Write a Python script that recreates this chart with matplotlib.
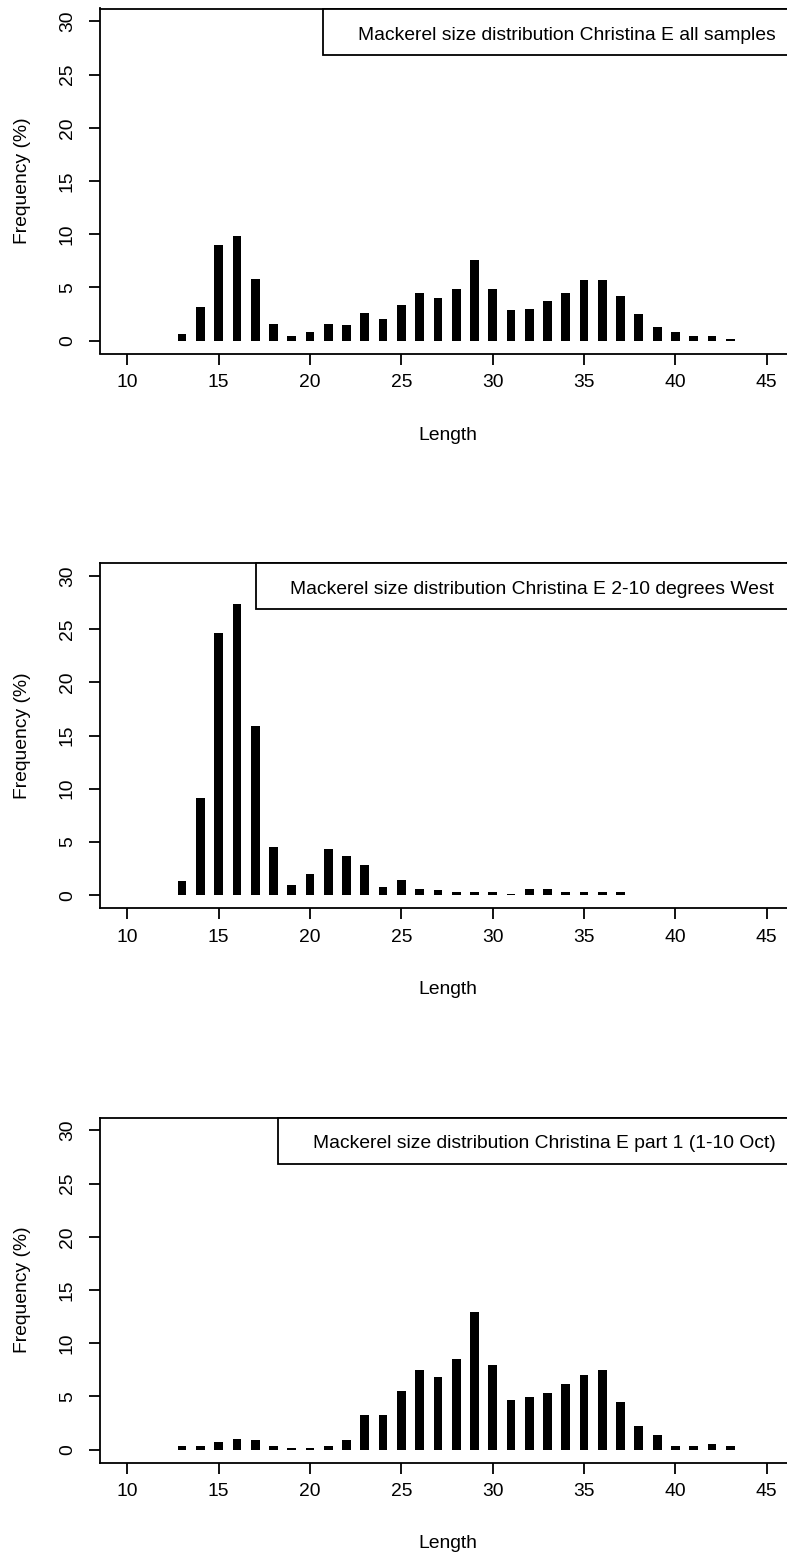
import matplotlib
matplotlib.use("Agg")
import matplotlib.pyplot as plt
from matplotlib.patches import Rectangle

plt.rcParams['font.family'] = ['Liberation Sans', 'DejaVu Sans']

# ---- data ----
lengths_all = list(range(13, 44))
freq_all = [0.6, 3.2, 9.0, 9.8, 5.8, 1.6, 0.45, 0.8, 1.6, 1.45, 2.65, 2.0, 3.35,
            4.5, 4.05, 4.9, 7.6, 4.9, 2.85, 3.0, 3.7, 4.5, 5.7, 5.7, 4.2, 2.5,
            1.3, 0.8, 0.45, 0.45, 0.12]

lengths_west = list(range(13, 38))
freq_west = [1.3, 9.1, 24.6, 27.35, 15.9, 4.55, 0.97, 1.97, 4.35, 3.67, 2.82,
             0.78, 1.44, 0.62, 0.47, 0.32, 0.32, 0.32, 0.15, 0.55, 0.55, 0.32,
             0.32, 0.32, 0.32]

lengths_part1 = list(range(13, 44))
freq_part1 = [0.34, 0.34, 0.72, 1.03, 0.88, 0.34, 0.16, 0.16, 0.34, 0.88, 3.29,
              3.29, 5.49, 7.52, 6.83, 8.56, 12.98, 8.0, 4.64, 4.98, 5.30, 6.14,
              6.99, 7.52, 4.45, 2.23, 1.38, 0.38, 0.38, 0.53, 0.38]

titles = ["Mackerel size distribution Christina E all samples",
          "Mackerel size distribution Christina E 2-10 degrees West",
          "Mackerel size distribution Christina E part 1 (1-10 Oct)"]

x_ticks = [10, 15, 20, 25, 30, 35, 40, 45]
y_ticks = [0, 5, 10, 15, 20, 25, 30]
x_label = "Length"
y_label = "Frequency (%)"

panels = [(lengths_all, freq_all), (lengths_west, freq_west), (lengths_part1, freq_part1)]

# ---- layout (pixels) ----
W, H = 787, 1553
fig = plt.figure(figsize=(W / 100, H / 100), dpi=100)

left_px, right_px = 100, 795
ax_h_px = 345
tops_px = [8.5, 563.0, 1117.5]
legend_left_px = [323, 256, 278]
text_left_px = [358, 290, 312.7]
legend_h_px = 46
text_center_px = 26.5
xlabel_offset_px = 81.5

px_per_unit = 18.27
xlim = (10 - (127.3 - left_px) / px_per_unit, 10 + (right_px - 127.3) / px_per_unit)
ylim = (-1.2, 31.2)

fs = 13.9
lw = 1.3

for i, (xs, ys) in enumerate(panels):
    top = tops_px[i]
    ax = fig.add_axes([left_px / W, 1 - (top + ax_h_px) / H,
                       (right_px - left_px) / W, ax_h_px / H])
    ax.bar(xs, ys, width=0.48, color='black', linewidth=0)
    ax.set_xlim(*xlim)
    ax.set_ylim(*ylim)
    ax.set_xticks(x_ticks)
    ax.set_yticks(y_ticks)
    ax.tick_params(axis='both', direction='out', length=7.9, width=lw,
                   labelsize=fs, colors='black')
    ax.tick_params(axis='x', pad=7)
    ax.tick_params(axis='y', pad=9.5)
    for lab in ax.get_yticklabels():
        lab.set_rotation(90)
        lab.set_va('center')
    for sp in ax.spines.values():
        sp.set_linewidth(lw)
        sp.set_color('black')
    ax.set_xlabel(x_label, fontsize=fs)
    ax.set_ylabel(y_label, fontsize=fs)
    ax.xaxis.label.set_va('center')
    ax.yaxis.label.set_va('center')
    ax.xaxis.set_label_coords(0.5, -xlabel_offset_px / ax_h_px)
    ax.yaxis.set_label_coords(-(left_px - 23) / (right_px - left_px), 0.5)

    # legend box (topright)
    bl = (legend_left_px[i] - left_px) / (right_px - left_px)
    bh = legend_h_px / ax_h_px
    rect = Rectangle((bl, 1 - bh), 1 - bl, bh, transform=ax.transAxes,
                     facecolor='white', edgecolor='black', linewidth=lw,
                     clip_on=False, zorder=5)
    ax.add_patch(rect)
    ax.text((text_left_px[i] - left_px) / (right_px - left_px),
            1 - text_center_px / ax_h_px, titles[i], transform=ax.transAxes,
            ha='left', va='center', fontsize=fs, color='black', zorder=6)

fig.savefig("out.png", dpi=100)
